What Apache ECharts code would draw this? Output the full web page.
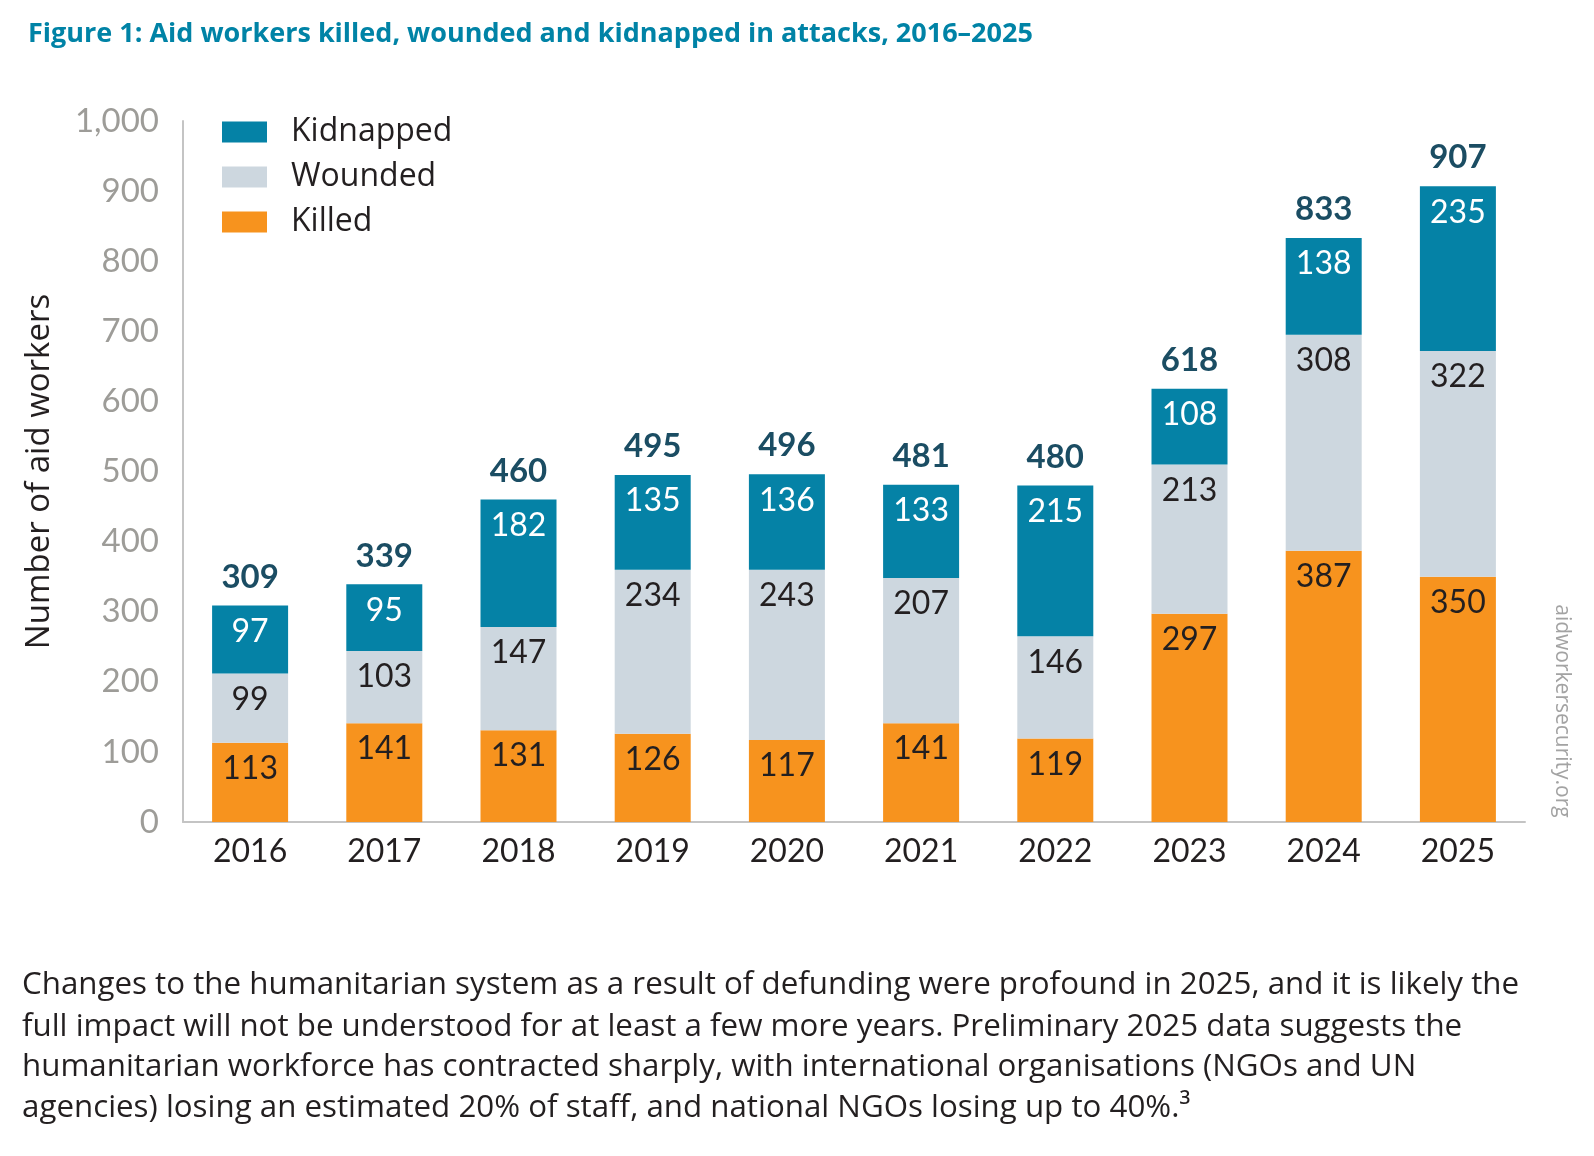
<!DOCTYPE html>
<html>
<head>
<meta charset="utf-8">
<title>Aid workers killed, wounded and kidnapped in attacks</title>
<script src="https://cdn.jsdelivr.net/npm/echarts@6/dist/echarts.min.js"></script>
<style>
  html, body { margin: 0; padding: 0; background: #ffffff; }
  #main { width: 1594px; height: 1156px; }
</style>
</head>
<body>
<div id="main"></div>
<script>
// values
var years = ['2016', '2017', '2018', '2019', '2020', '2021', '2022', '2023', '2024', '2025'];
var killed = [113, 141, 131, 126, 117, 141, 119, 297, 387, 350];
var wounded = [99, 103, 147, 234, 243, 207, 146, 213, 308, 322];
var kidnapped = [97, 95, 182, 135, 136, 133, 215, 108, 138, 235];
var totals = [309, 339, 460, 495, 496, 481, 480, 618, 833, 907];

var titleText = 'Figure 1: Aid workers killed, wounded and kidnapped in attacks, 2016\u20132025';
var noteLines = [
  'Changes to the humanitarian system as a result of defunding were profound in 2025, and it is likely the',
  'full impact will not be understood for at least a few more years. Preliminary 2025 data suggests the',
  'humanitarian workforce has contracted sharply, with international organisations (NGOs and UN',
  'agencies) losing an estimated 20% of staff, and national NGOs losing up to 40%.\u00b3'
];

var FONT = '"Open Sans", Lato, sans-serif';
var NUMFONT = 'Lato, "Open Sans", sans-serif';
var DARK = '#231f20';

var chart = echarts.init(document.getElementById('main'), null, { renderer: 'canvas' });

// label inside the top of each segment
function segLabel(color) {
  return {
    show: true,
    position: 'insideTop',
    distance: 10,
    color: color,
    fontFamily: NUMFONT,
    fontSize: 32
  };
}

function noteGraphics() {
  var out = [];
  var ys = [985, 1027, 1067, 1108];
  for (var i = 0; i < noteLines.length; i++) {
    out.push({
      type: 'text',
      x: 22,
      y: ys[i],
      style: {
        text: noteLines[i],
        fontFamily: FONT,
        fontSize: 31.3,
        fill: DARK,
        verticalAlign: 'middle'
      }
    });
  }
  // source on the right side
  out.push({
    type: 'text',
    x: 1562,
    y: 711,
    rotation: -Math.PI / 2,
    style: {
      text: 'aidworkersecurity.org',
      fontFamily: FONT,
      fontSize: 21,
      fill: '#a3a3a3',
      align: 'center',
      verticalAlign: 'middle'
    }
  });
  return out;
}

var option = {
  backgroundColor: '#ffffff',
  animation: false,
  title: {
    text: titleText,
    left: 28,
    top: 21,
    padding: 0,
    textStyle: {
      fontFamily: FONT,
      fontSize: 27,
      fontWeight: 'bold',
      color: '#0083a6'
    }
  },
  legend: {
    data: ['Kidnapped', 'Wounded', 'Killed'],
    orient: 'vertical',
    left: 222,
    top: 116,
    padding: 0,
    itemWidth: 45,
    itemHeight: 21,
    itemGap: 13,
    icon: 'rect',
    textStyle: {
      fontFamily: FONT,
      fontSize: 32,
      lineHeight: 32,
      color: DARK,
      padding: [0, 0, 0, 19]
    }
  },
  grid: {
    left: 183,
    right: 69,
    top: 121,
    bottom: 334
  },
  xAxis: {
    type: 'category',
    data: years,
    axisLine: { lineStyle: { color: '#c4c4c4', width: 2 } },
    axisTick: { show: false },
    axisLabel: {
      margin: 14,
      color: DARK,
      fontFamily: NUMFONT,
      fontSize: 32
    }
  },
  yAxis: {
    type: 'value',
    min: 0,
    max: 1000,
    interval: 100,
    name: 'Number of aid workers',
    nameLocation: 'middle',
    nameGap: 127,
    nameTextStyle: {
      color: DARK,
      fontFamily: FONT,
      fontSize: 33
    },
    axisLine: { show: true, lineStyle: { color: '#c4c4c4', width: 2 } },
    axisTick: { show: false },
    splitLine: { show: false },
    axisLabel: {
      margin: 24,
      color: '#9d9c98',
      fontFamily: NUMFONT,
      fontSize: 33,
      formatter: function (v) {
        return echarts.format.addCommas(v);
      }
    }
  },
  series: [
    {
      name: 'Killed',
      type: 'bar',
      stack: 'all',
      barWidth: 76,
      data: killed,
      itemStyle: { color: '#f7931e' },
      label: segLabel(DARK)
    },
    {
      name: 'Wounded',
      type: 'bar',
      stack: 'all',
      barWidth: 76,
      data: wounded,
      itemStyle: { color: '#cdd7df' },
      label: segLabel(DARK)
    },
    {
      name: 'Kidnapped',
      type: 'bar',
      stack: 'all',
      barWidth: 76,
      data: kidnapped,
      itemStyle: { color: '#0582a6' },
      label: segLabel('#ffffff')
    },
    {
      // invisible bar carrying the total above each column
      name: 'Total',
      type: 'bar',
      barWidth: 76,
      barGap: '-100%',
      z: 1,
      data: totals,
      itemStyle: { color: 'rgba(0,0,0,0)' },
      label: {
        show: true,
        position: 'top',
        distance: 12,
        color: '#1b4d63',
        fontFamily: NUMFONT,
        fontSize: 33,
        fontWeight: 'bold'
      }
    }
  ],
  graphic: noteGraphics()
};

chart.setOption(option);
</script>
</body>
</html>
